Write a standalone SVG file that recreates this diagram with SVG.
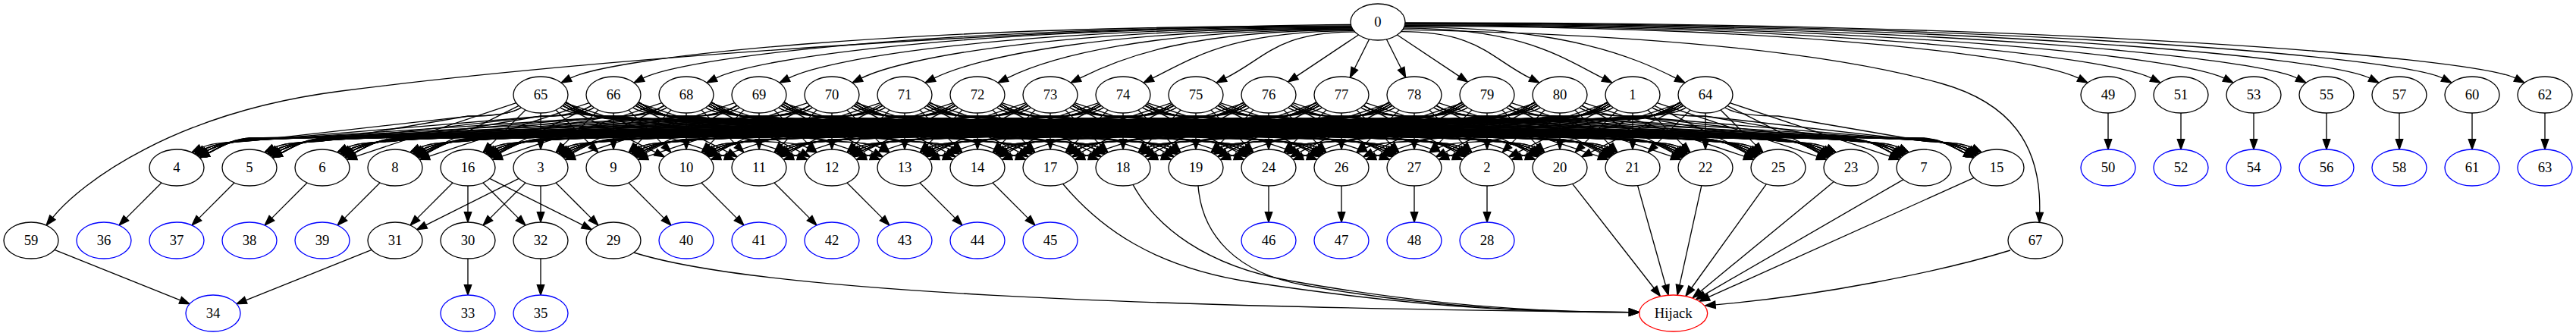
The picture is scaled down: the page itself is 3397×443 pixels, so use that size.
<svg xmlns="http://www.w3.org/2000/svg" width="3397" height="443" viewBox="0 0 3397 443">
<style>
.e{fill:none;stroke:#000;stroke-width:1.33;marker-end:url(#ah)}
.node ellipse{fill:#fff;stroke:#000;stroke-width:1.33}
.node.leaf ellipse{stroke:#0000ff}
.node.hj ellipse{stroke:#ff0000}
.node text{font-family:"Liberation Serif","Times New Roman",serif;font-size:18.67px;text-anchor:middle;fill:#000}
</style>
<defs>
<marker id="ah" viewBox="0 -5 14 10" refX="0" refY="0" markerWidth="14" markerHeight="10" markerUnits="userSpaceOnUse" orient="auto" overflow="visible"><path d="M0,-4.7L13.3,0L0,4.7z" fill="#000" stroke="#000" stroke-width="1.33"/></marker>
<path id="p0" d="M0,24L0,58.7"/>
<path id="p1" d="M20,20L66.6,66.6"/>
<path id="n1" d="M-20,20L-66.6,66.6"/>
<path id="p2" d="M28.8,14.4L151.6,75.8"/>
<path id="n2" d="M-28.8,14.4L-151.6,75.8"/>
<path id="p3" d="M32.2,10.7L243.2,81.1"/>
<path id="n3" d="M-32.2,10.7L-243.2,81.1"/>
<path id="p4" d="M26,17C40,26 70,28 96,28L288,61C313,63 336.3,62.2 352.4,70.2"/>
<path id="n4" d="M-26,17C-40,26 -70,28 -96,28L-288,61C-313,63 -336.3,62.2 -352.4,70.2"/>
<path id="p5" d="M26,17C40,26 70,28.3 96,28.3L384,60.8C409,62.8 432.3,62.2 448.4,70.2"/>
<path id="n5" d="M-26,17C-40,26 -70,28.3 -96,28.3L-384,60.8C-409,62.8 -432.3,62.2 -448.4,70.2"/>
<path id="p6" d="M29,14C43,23 70,28.5 96,28.5L480,60.5C505,62.5 524.3,64.2 540.4,72.2"/>
<path id="n6" d="M-29,14C-43,23 -70,28.5 -96,28.5L-480,60.5C-505,62.5 -524.3,64.2 -540.4,72.2"/>
<path id="p7" d="M29,14C43,23 70,28.8 96,28.8L576,60.3C601,62.3 620.3,64.2 636.4,72.2"/>
<path id="n7" d="M-29,14C-43,23 -70,28.8 -96,28.8L-576,60.3C-601,62.3 -620.3,64.2 -636.4,72.2"/>
<path id="p8" d="M29,14C43,23 70,29 96,29L672,60C697,62 716.3,64.2 732.4,72.2"/>
<path id="n8" d="M-29,14C-43,23 -70,29 -96,29L-672,60C-697,62 -716.3,64.2 -732.4,72.2"/>
<path id="p9" d="M29,14C43,23 70,29.3 96,29.3L768,59.8C793,61.8 812.3,64.2 828.4,72.2"/>
<path id="n9" d="M-29,14C-43,23 -70,29.3 -96,29.3L-768,59.8C-793,61.8 -812.3,64.2 -828.4,72.2"/>
<path id="p10" d="M31,12C45,21 70,29.5 96,29.5L864,59.5C889,61.5 905.3,66.2 921.4,74.2"/>
<path id="n10" d="M-31,12C-45,21 -70,29.5 -96,29.5L-864,59.5C-889,61.5 -905.3,66.2 -921.4,74.2"/>
<path id="p11" d="M31,12C45,21 70,29.8 96,29.8L960,59.3C985,61.3 1001.3,66.2 1017.4,74.2"/>
<path id="n11" d="M-31,12C-45,21 -70,29.8 -96,29.8L-960,59.3C-985,61.3 -1001.3,66.2 -1017.4,74.2"/>
<path id="p12" d="M31,12C45,21 70,30 96,30L1056,59C1081,61 1097.3,66.2 1113.4,74.2"/>
<path id="n12" d="M-31,12C-45,21 -70,30 -96,30L-1056,59C-1081,61 -1097.3,66.2 -1113.4,74.2"/>
<path id="p13" d="M31,12C45,21 70,30.3 96,30.3L1152,58.8C1177,60.8 1193.3,66.2 1209.4,74.2"/>
<path id="n13" d="M-31,12C-45,21 -70,30.3 -96,30.3L-1152,58.8C-1177,60.8 -1193.3,66.2 -1209.4,74.2"/>
<path id="p14" d="M31,12C45,21 70,30.5 96,30.5L1248,58.5C1273,60.5 1289.3,66.2 1305.4,74.2"/>
<path id="n14" d="M-31,12C-45,21 -70,30.5 -96,30.5L-1248,58.5C-1273,60.5 -1289.3,66.2 -1305.4,74.2"/>
<path id="p15" d="M33,9.6C47,18.6 70,30.8 96,30.8L1344,58.3C1369,60.3 1382.3,68.9 1398.4,76.9"/>
<path id="n15" d="M-33,9.6C-47,18.6 -70,30.8 -96,30.8L-1344,58.3C-1369,60.3 -1382.3,68.9 -1398.4,76.9"/>
<path id="p16" d="M33,9.6C47,18.6 70,31 96,31L1440,58C1465,60 1478.3,68.9 1494.4,76.9"/>
<path id="n16" d="M-33,9.6C-47,18.6 -70,31 -96,31L-1440,58C-1465,60 -1478.3,68.9 -1494.4,76.9"/>
<path id="p17" d="M33,9.6C47,18.6 70,31.3 96,31.3L1536,57.8C1561,59.8 1574.3,68.9 1590.4,76.9"/>
<path id="n17" d="M-33,9.6C-47,18.6 -70,31.3 -96,31.3L-1536,57.8C-1561,59.8 -1574.3,68.9 -1590.4,76.9"/>
<path id="p18" d="M33,9.6C47,18.6 70,31.5 96,31.5L1632,57.5C1657,59.5 1670.3,68.9 1686.4,76.9"/>
<path id="n18" d="M-33,9.6C-47,18.6 -70,31.5 -96,31.5L-1632,57.5C-1657,59.5 -1670.3,68.9 -1686.4,76.9"/>
<path id="p19" d="M33,9.6C47,18.6 70,31.8 96,31.8L1728,57.3C1753,59.3 1766.3,68.9 1782.4,76.9"/>
<path id="n19" d="M-33,9.6C-47,18.6 -70,31.8 -96,31.8L-1728,57.3C-1753,59.3 -1766.3,68.9 -1782.4,76.9"/>
<path id="p20" d="M33,9.6C47,18.6 70,32 96,32L1824,57C1849,59 1862.3,68.9 1878.4,76.9"/>
<path id="n20" d="M-33,9.6C-47,18.6 -70,32 -96,32L-1824,57C-1849,59 -1862.3,68.9 -1878.4,76.9"/>
<path id="n21" d="M-33,9.6C-47,18.6 -70,32.3 -96,32.3L-1920,56.8C-1945,58.8 -1958.3,68.9 -1974.4,76.9"/>
</defs>
<rect width="3397" height="443" fill="#fff"/>
<g id="edges" class="e">
<g id="from0">
<path d="M1791.5,46L1709.6,100.6"/>
<path d="M1805.6,51.8L1786.3,90.3"/>
<path d="M1828.4,51.8L1847.7,90.3"/>
<path d="M1842.5,46L1924.4,100.6"/>
<path d="M1786.8,42.1C1684.3,42.1 1669.5,76.3 1615.9,103.1"/>
<path d="M1785.5,40.6C1626.1,40.6 1573.5,76.3 1519.9,103.1"/>
<path d="M1784.6,39.5C1568.2,39.5 1477.5,76.3 1423.9,103.1"/>
<path d="M1784.1,38.8C1510.4,38.8 1381.5,76.3 1327.9,103.1"/>
<path d="M1783.6,38C1452.6,38 1285.5,76.3 1231.9,103.1"/>
<path d="M1783.2,37.2C1394.8,37.2 1189.5,76.3 1135.9,103.1"/>
<path d="M1782.8,36.4C1337.1,36.4 1093.5,76.3 1039.9,103.1"/>
<path d="M1782.4,35.6C1279.3,35.6 997.5,76.3 943.9,103.1"/>
<path d="M1782.1,34.8C1221.6,34.8 901.5,76.3 847.9,103.1"/>
<path d="M1781.8,34C1163.9,34 805.5,76.3 751.9,103.1"/>
<path d="M1847.5,41.7C1949.9,41.7 1964.5,76.3 2018.1,103.1"/>
<path d="M1850.8,37.2C2008.8,37.2 2060.5,76.3 2114.1,103.1"/>
<path d="M1851.6,35.6C2066.7,35.6 2156.5,76.3 2210.1,103.1"/>
<path d="M1852.1,34.4C2385.5,34.4 2687.5,76.3 2741.1,103.1"/>
<path d="M1852.3,33.6C2443.2,33.6 2783.5,76.3 2837.1,103.1"/>
<path d="M1852.6,32.8C2500.9,32.8 2879.5,76.3 2933.1,103.1"/>
<path d="M1852.7,31.9C2558.5,31.9 2975.5,76.3 3029.1,103.1"/>
<path d="M1852.9,31.1C2616.2,31.1 3071.5,76.3 3125.1,103.1"/>
<path d="M1852.9,30.5C2673.8,30.5 3167.5,76.3 3221.1,103.1"/>
<path d="M1853,29.8C2731.5,29.8 3263.5,76.3 3317.1,103.1"/>
<path d="M1849.6,39.1C2150,45 2400,65 2560,110C2650,135.3 2692,190 2689.7,280.2"/>
<path d="M1781.4,32.3C1400,35 800,75 450,120C230,148 107.2,240.6 69.4,286.8"/>
</g>
<g id="band">
<g transform="translate(713,125)"><use href="#n5"/><use href="#n4"/><use href="#n3"/><use href="#n2"/><use href="#n1"/><use href="#p0"/><use href="#p1"/><use href="#p2"/><use href="#p3"/><use href="#p4"/><use href="#p5"/><use href="#p6"/><use href="#p7"/><use href="#p8"/><use href="#p9"/><use href="#p10"/><use href="#p11"/><use href="#p12"/><use href="#p13"/><use href="#p14"/><use href="#p15"/><use href="#p16"/><use href="#p17"/><use href="#p18"/><use href="#p19"/><use href="#p20"/></g>
<g transform="translate(809,125)"><use href="#n6"/><use href="#n5"/><use href="#n4"/><use href="#n3"/><use href="#n2"/><use href="#n1"/><use href="#p0"/><use href="#p1"/><use href="#p2"/><use href="#p3"/><use href="#p4"/><use href="#p5"/><use href="#p6"/><use href="#p7"/><use href="#p8"/><use href="#p9"/><use href="#p10"/><use href="#p11"/><use href="#p12"/><use href="#p13"/><use href="#p14"/><use href="#p15"/><use href="#p16"/><use href="#p17"/><use href="#p18"/><use href="#p19"/></g>
<g transform="translate(905,125)"><use href="#n7"/><use href="#n6"/><use href="#n5"/><use href="#n4"/><use href="#n3"/><use href="#n2"/><use href="#n1"/><use href="#p0"/><use href="#p1"/><use href="#p2"/><use href="#p3"/><use href="#p4"/><use href="#p5"/><use href="#p6"/><use href="#p7"/><use href="#p8"/><use href="#p9"/><use href="#p10"/><use href="#p11"/><use href="#p12"/><use href="#p13"/><use href="#p14"/><use href="#p15"/><use href="#p16"/><use href="#p17"/><use href="#p18"/></g>
<g transform="translate(1001,125)"><use href="#n8"/><use href="#n7"/><use href="#n6"/><use href="#n5"/><use href="#n4"/><use href="#n3"/><use href="#n2"/><use href="#n1"/><use href="#p0"/><use href="#p1"/><use href="#p2"/><use href="#p3"/><use href="#p4"/><use href="#p5"/><use href="#p6"/><use href="#p7"/><use href="#p8"/><use href="#p9"/><use href="#p10"/><use href="#p11"/><use href="#p12"/><use href="#p13"/><use href="#p14"/><use href="#p15"/><use href="#p16"/><use href="#p17"/></g>
<g transform="translate(1097,125)"><use href="#n9"/><use href="#n8"/><use href="#n7"/><use href="#n6"/><use href="#n5"/><use href="#n4"/><use href="#n3"/><use href="#n2"/><use href="#n1"/><use href="#p0"/><use href="#p1"/><use href="#p2"/><use href="#p3"/><use href="#p4"/><use href="#p5"/><use href="#p6"/><use href="#p7"/><use href="#p8"/><use href="#p9"/><use href="#p10"/><use href="#p11"/><use href="#p12"/><use href="#p13"/><use href="#p14"/><use href="#p15"/><use href="#p16"/></g>
<g transform="translate(1193,125)"><use href="#n10"/><use href="#n9"/><use href="#n8"/><use href="#n7"/><use href="#n6"/><use href="#n5"/><use href="#n4"/><use href="#n3"/><use href="#n2"/><use href="#n1"/><use href="#p0"/><use href="#p1"/><use href="#p2"/><use href="#p3"/><use href="#p4"/><use href="#p5"/><use href="#p6"/><use href="#p7"/><use href="#p8"/><use href="#p9"/><use href="#p10"/><use href="#p11"/><use href="#p12"/><use href="#p13"/><use href="#p14"/><use href="#p15"/></g>
<g transform="translate(1289,125)"><use href="#n11"/><use href="#n10"/><use href="#n9"/><use href="#n8"/><use href="#n7"/><use href="#n6"/><use href="#n5"/><use href="#n4"/><use href="#n3"/><use href="#n2"/><use href="#n1"/><use href="#p0"/><use href="#p1"/><use href="#p2"/><use href="#p3"/><use href="#p4"/><use href="#p5"/><use href="#p6"/><use href="#p7"/><use href="#p8"/><use href="#p9"/><use href="#p10"/><use href="#p11"/><use href="#p12"/><use href="#p13"/><use href="#p14"/></g>
<g transform="translate(1385,125)"><use href="#n12"/><use href="#n11"/><use href="#n10"/><use href="#n9"/><use href="#n8"/><use href="#n7"/><use href="#n6"/><use href="#n5"/><use href="#n4"/><use href="#n3"/><use href="#n2"/><use href="#n1"/><use href="#p0"/><use href="#p1"/><use href="#p2"/><use href="#p3"/><use href="#p4"/><use href="#p5"/><use href="#p6"/><use href="#p7"/><use href="#p8"/><use href="#p9"/><use href="#p10"/><use href="#p11"/><use href="#p12"/><use href="#p13"/></g>
<g transform="translate(1481,125)"><use href="#n13"/><use href="#n12"/><use href="#n11"/><use href="#n10"/><use href="#n9"/><use href="#n8"/><use href="#n7"/><use href="#n6"/><use href="#n5"/><use href="#n4"/><use href="#n3"/><use href="#n2"/><use href="#n1"/><use href="#p0"/><use href="#p1"/><use href="#p2"/><use href="#p3"/><use href="#p4"/><use href="#p5"/><use href="#p6"/><use href="#p7"/><use href="#p8"/><use href="#p9"/><use href="#p10"/><use href="#p11"/><use href="#p12"/></g>
<g transform="translate(1577,125)"><use href="#n14"/><use href="#n13"/><use href="#n12"/><use href="#n11"/><use href="#n10"/><use href="#n9"/><use href="#n8"/><use href="#n7"/><use href="#n6"/><use href="#n5"/><use href="#n4"/><use href="#n3"/><use href="#n2"/><use href="#n1"/><use href="#p0"/><use href="#p1"/><use href="#p2"/><use href="#p3"/><use href="#p4"/><use href="#p5"/><use href="#p6"/><use href="#p7"/><use href="#p8"/><use href="#p9"/><use href="#p10"/><use href="#p11"/></g>
<g transform="translate(1673,125)"><use href="#n15"/><use href="#n14"/><use href="#n13"/><use href="#n12"/><use href="#n11"/><use href="#n10"/><use href="#n9"/><use href="#n8"/><use href="#n7"/><use href="#n6"/><use href="#n5"/><use href="#n4"/><use href="#n3"/><use href="#n2"/><use href="#n1"/><use href="#p0"/><use href="#p1"/><use href="#p2"/><use href="#p3"/><use href="#p4"/><use href="#p5"/><use href="#p6"/><use href="#p7"/><use href="#p8"/><use href="#p9"/><use href="#p10"/></g>
<g transform="translate(1769,125)"><use href="#n16"/><use href="#n15"/><use href="#n14"/><use href="#n13"/><use href="#n12"/><use href="#n11"/><use href="#n10"/><use href="#n9"/><use href="#n8"/><use href="#n7"/><use href="#n6"/><use href="#n5"/><use href="#n4"/><use href="#n3"/><use href="#n2"/><use href="#n1"/><use href="#p0"/><use href="#p1"/><use href="#p2"/><use href="#p3"/><use href="#p4"/><use href="#p5"/><use href="#p6"/><use href="#p7"/><use href="#p8"/><use href="#p9"/></g>
<g transform="translate(1865,125)"><use href="#n17"/><use href="#n16"/><use href="#n15"/><use href="#n14"/><use href="#n13"/><use href="#n12"/><use href="#n11"/><use href="#n10"/><use href="#n9"/><use href="#n8"/><use href="#n7"/><use href="#n6"/><use href="#n5"/><use href="#n4"/><use href="#n3"/><use href="#n2"/><use href="#n1"/><use href="#p0"/><use href="#p1"/><use href="#p2"/><use href="#p3"/><use href="#p4"/><use href="#p5"/><use href="#p6"/><use href="#p7"/><use href="#p8"/></g>
<g transform="translate(1961,125)"><use href="#n18"/><use href="#n17"/><use href="#n16"/><use href="#n15"/><use href="#n14"/><use href="#n13"/><use href="#n12"/><use href="#n11"/><use href="#n10"/><use href="#n9"/><use href="#n8"/><use href="#n7"/><use href="#n6"/><use href="#n5"/><use href="#n4"/><use href="#n3"/><use href="#n2"/><use href="#n1"/><use href="#p0"/><use href="#p1"/><use href="#p2"/><use href="#p3"/><use href="#p4"/><use href="#p5"/><use href="#p6"/><use href="#p7"/></g>
<g transform="translate(2057,125)"><use href="#n19"/><use href="#n18"/><use href="#n17"/><use href="#n16"/><use href="#n15"/><use href="#n14"/><use href="#n13"/><use href="#n12"/><use href="#n11"/><use href="#n10"/><use href="#n9"/><use href="#n8"/><use href="#n7"/><use href="#n6"/><use href="#n5"/><use href="#n4"/><use href="#n3"/><use href="#n2"/><use href="#n1"/><use href="#p0"/><use href="#p1"/><use href="#p2"/><use href="#p3"/><use href="#p4"/><use href="#p5"/><use href="#p6"/></g>
<g transform="translate(2153,125)"><use href="#n20"/><use href="#n19"/><use href="#n18"/><use href="#n17"/><use href="#n16"/><use href="#n15"/><use href="#n14"/><use href="#n13"/><use href="#n12"/><use href="#n11"/><use href="#n10"/><use href="#n9"/><use href="#n8"/><use href="#n7"/><use href="#n6"/><use href="#n5"/><use href="#n4"/><use href="#n3"/><use href="#n2"/><use href="#n1"/><use href="#p0"/><use href="#p1"/><use href="#p2"/><use href="#p3"/><use href="#p4"/><use href="#p5"/></g>
<g transform="translate(2249,125)"><use href="#n21"/><use href="#n20"/><use href="#n19"/><use href="#n18"/><use href="#n17"/><use href="#n16"/><use href="#n15"/><use href="#n14"/><use href="#n13"/><use href="#n12"/><use href="#n11"/><use href="#n10"/><use href="#n9"/><use href="#n8"/><use href="#n7"/><use href="#n6"/><use href="#n5"/><use href="#n4"/><use href="#n3"/><use href="#n2"/><use href="#n1"/><use href="#p0"/><use href="#p1"/><use href="#p2"/><use href="#p3"/><use href="#p4"/></g>
</g>
<g id="lower">
<path d="M2780,149L2780,183.7"/>
<path d="M2876,149L2876,183.7"/>
<path d="M2972,149L2972,183.7"/>
<path d="M3068,149L3068,183.7"/>
<path d="M3164,149L3164,183.7"/>
<path d="M3260,149L3260,183.7"/>
<path d="M3356,149L3356,183.7"/>
<path d="M213,241L166.4,287.6"/>
<path d="M309,241L262.4,287.6"/>
<path d="M405,241L358.4,287.6"/>
<path d="M501,241L454.4,287.6"/>
<path d="M597,241L550.4,287.6"/>
<path d="M617,245L617,279.7"/>
<path d="M637,241L683.6,287.6"/>
<path d="M645.8,235.4L768.6,296.8"/>
<path d="M684.2,235.4L561.4,296.8"/>
<path d="M693,241L646.4,287.6"/>
<path d="M713,245L713,279.7"/>
<path d="M733,241L779.6,287.6"/>
<path d="M829,241L875.6,287.6"/>
<path d="M925,241L971.6,287.6"/>
<path d="M1021,241L1067.6,287.6"/>
<path d="M1117,241L1163.6,287.6"/>
<path d="M1213,241L1259.6,287.6"/>
<path d="M1309,241L1355.6,287.6"/>
<path d="M1673,245L1673,279.7"/>
<path d="M1769,245L1769,279.7"/>
<path d="M1865,245L1865,279.7"/>
<path d="M1961,245L1961,279.7"/>
<path d="M71.9,329.3L237.8,395.8"/>
<path d="M490.1,329.3L324.2,395.8"/>
<path d="M617,341L617,375.7"/>
<path d="M713,341L713,375.7"/>
<path d="M836,333C1000,385 1500,405 2148.4,411.7"/>
<path d="M1401.5,242.3C1450,300 1520,352 1650,372C1900,410 2050,411.7 2148.4,411.7"/>
<path d="M1494,243.4C1525,300 1590,350 1700,370C1900,406 2050,411.7 2148.4,411.7"/>
<path d="M1580,244.9C1585,310 1630,360 1720,376C1900,408 2050,411.7 2148.4,411.7"/>
<path d="M2073.6,242.3L2181.2,380"/>
<path d="M2159.6,244.6L2196.5,376.2"/>
<path d="M2243.8,244.8L2214.9,375.9"/>
<path d="M2329.4,242.6L2230.7,379.5"/>
<path d="M2418.3,239.6L2242.4,384.2"/>
<path d="M2509.8,236.8L2247.8,388.3"/>
<path d="M2603.1,234.4L2253.2,391.7"/>
<path d="M2651,330C2560,358 2400,390 2262,401.8"/>
</g>
</g>
<g id="nodes">
<g id="node0" class="node"><ellipse cx="1817" cy="29" rx="36" ry="24"/><text x="1817" y="35">0</text></g>
<g id="node65" class="node"><ellipse cx="713" cy="125" rx="36" ry="24"/><text x="713" y="131">65</text></g>
<g id="node66" class="node"><ellipse cx="809" cy="125" rx="36" ry="24"/><text x="809" y="131">66</text></g>
<g id="node68" class="node"><ellipse cx="905" cy="125" rx="36" ry="24"/><text x="905" y="131">68</text></g>
<g id="node69" class="node"><ellipse cx="1001" cy="125" rx="36" ry="24"/><text x="1001" y="131">69</text></g>
<g id="node70" class="node"><ellipse cx="1097" cy="125" rx="36" ry="24"/><text x="1097" y="131">70</text></g>
<g id="node71" class="node"><ellipse cx="1193" cy="125" rx="36" ry="24"/><text x="1193" y="131">71</text></g>
<g id="node72" class="node"><ellipse cx="1289" cy="125" rx="36" ry="24"/><text x="1289" y="131">72</text></g>
<g id="node73" class="node"><ellipse cx="1385" cy="125" rx="36" ry="24"/><text x="1385" y="131">73</text></g>
<g id="node74" class="node"><ellipse cx="1481" cy="125" rx="36" ry="24"/><text x="1481" y="131">74</text></g>
<g id="node75" class="node"><ellipse cx="1577" cy="125" rx="36" ry="24"/><text x="1577" y="131">75</text></g>
<g id="node76" class="node"><ellipse cx="1673" cy="125" rx="36" ry="24"/><text x="1673" y="131">76</text></g>
<g id="node77" class="node"><ellipse cx="1769" cy="125" rx="36" ry="24"/><text x="1769" y="131">77</text></g>
<g id="node78" class="node"><ellipse cx="1865" cy="125" rx="36" ry="24"/><text x="1865" y="131">78</text></g>
<g id="node79" class="node"><ellipse cx="1961" cy="125" rx="36" ry="24"/><text x="1961" y="131">79</text></g>
<g id="node80" class="node"><ellipse cx="2057" cy="125" rx="36" ry="24"/><text x="2057" y="131">80</text></g>
<g id="node1" class="node"><ellipse cx="2153" cy="125" rx="36" ry="24"/><text x="2153" y="131">1</text></g>
<g id="node64" class="node"><ellipse cx="2249" cy="125" rx="36" ry="24"/><text x="2249" y="131">64</text></g>
<g id="node49" class="node"><ellipse cx="2780" cy="125" rx="36" ry="24"/><text x="2780" y="131">49</text></g>
<g id="node51" class="node"><ellipse cx="2876" cy="125" rx="36" ry="24"/><text x="2876" y="131">51</text></g>
<g id="node53" class="node"><ellipse cx="2972" cy="125" rx="36" ry="24"/><text x="2972" y="131">53</text></g>
<g id="node55" class="node"><ellipse cx="3068" cy="125" rx="36" ry="24"/><text x="3068" y="131">55</text></g>
<g id="node57" class="node"><ellipse cx="3164" cy="125" rx="36" ry="24"/><text x="3164" y="131">57</text></g>
<g id="node60" class="node"><ellipse cx="3260" cy="125" rx="36" ry="24"/><text x="3260" y="131">60</text></g>
<g id="node62" class="node"><ellipse cx="3356" cy="125" rx="36" ry="24"/><text x="3356" y="131">62</text></g>
<g id="node4" class="node"><ellipse cx="233" cy="221" rx="36" ry="24"/><text x="233" y="227">4</text></g>
<g id="node5" class="node"><ellipse cx="329" cy="221" rx="36" ry="24"/><text x="329" y="227">5</text></g>
<g id="node6" class="node"><ellipse cx="425" cy="221" rx="36" ry="24"/><text x="425" y="227">6</text></g>
<g id="node8" class="node"><ellipse cx="521" cy="221" rx="36" ry="24"/><text x="521" y="227">8</text></g>
<g id="node16" class="node"><ellipse cx="617" cy="221" rx="36" ry="24"/><text x="617" y="227">16</text></g>
<g id="node3" class="node"><ellipse cx="713" cy="221" rx="36" ry="24"/><text x="713" y="227">3</text></g>
<g id="node9" class="node"><ellipse cx="809" cy="221" rx="36" ry="24"/><text x="809" y="227">9</text></g>
<g id="node10" class="node"><ellipse cx="905" cy="221" rx="36" ry="24"/><text x="905" y="227">10</text></g>
<g id="node11" class="node"><ellipse cx="1001" cy="221" rx="36" ry="24"/><text x="1001" y="227">11</text></g>
<g id="node12" class="node"><ellipse cx="1097" cy="221" rx="36" ry="24"/><text x="1097" y="227">12</text></g>
<g id="node13" class="node"><ellipse cx="1193" cy="221" rx="36" ry="24"/><text x="1193" y="227">13</text></g>
<g id="node14" class="node"><ellipse cx="1289" cy="221" rx="36" ry="24"/><text x="1289" y="227">14</text></g>
<g id="node17" class="node"><ellipse cx="1385" cy="221" rx="36" ry="24"/><text x="1385" y="227">17</text></g>
<g id="node18" class="node"><ellipse cx="1481" cy="221" rx="36" ry="24"/><text x="1481" y="227">18</text></g>
<g id="node19" class="node"><ellipse cx="1577" cy="221" rx="36" ry="24"/><text x="1577" y="227">19</text></g>
<g id="node24" class="node"><ellipse cx="1673" cy="221" rx="36" ry="24"/><text x="1673" y="227">24</text></g>
<g id="node26" class="node"><ellipse cx="1769" cy="221" rx="36" ry="24"/><text x="1769" y="227">26</text></g>
<g id="node27" class="node"><ellipse cx="1865" cy="221" rx="36" ry="24"/><text x="1865" y="227">27</text></g>
<g id="node2" class="node"><ellipse cx="1961" cy="221" rx="36" ry="24"/><text x="1961" y="227">2</text></g>
<g id="node20" class="node"><ellipse cx="2057" cy="221" rx="36" ry="24"/><text x="2057" y="227">20</text></g>
<g id="node21" class="node"><ellipse cx="2153" cy="221" rx="36" ry="24"/><text x="2153" y="227">21</text></g>
<g id="node22" class="node"><ellipse cx="2249" cy="221" rx="36" ry="24"/><text x="2249" y="227">22</text></g>
<g id="node25" class="node"><ellipse cx="2345" cy="221" rx="36" ry="24"/><text x="2345" y="227">25</text></g>
<g id="node23" class="node"><ellipse cx="2441" cy="221" rx="36" ry="24"/><text x="2441" y="227">23</text></g>
<g id="node7" class="node"><ellipse cx="2537" cy="221" rx="36" ry="24"/><text x="2537" y="227">7</text></g>
<g id="node15" class="node"><ellipse cx="2633" cy="221" rx="36" ry="24"/><text x="2633" y="227">15</text></g>
<g id="node50" class="node leaf"><ellipse cx="2780" cy="221" rx="36" ry="24"/><text x="2780" y="227">50</text></g>
<g id="node52" class="node leaf"><ellipse cx="2876" cy="221" rx="36" ry="24"/><text x="2876" y="227">52</text></g>
<g id="node54" class="node leaf"><ellipse cx="2972" cy="221" rx="36" ry="24"/><text x="2972" y="227">54</text></g>
<g id="node56" class="node leaf"><ellipse cx="3068" cy="221" rx="36" ry="24"/><text x="3068" y="227">56</text></g>
<g id="node58" class="node leaf"><ellipse cx="3164" cy="221" rx="36" ry="24"/><text x="3164" y="227">58</text></g>
<g id="node61" class="node leaf"><ellipse cx="3260" cy="221" rx="36" ry="24"/><text x="3260" y="227">61</text></g>
<g id="node63" class="node leaf"><ellipse cx="3356" cy="221" rx="36" ry="24"/><text x="3356" y="227">63</text></g>
<g id="node59" class="node"><ellipse cx="41" cy="317" rx="36" ry="24"/><text x="41" y="323">59</text></g>
<g id="node36" class="node leaf"><ellipse cx="137" cy="317" rx="36" ry="24"/><text x="137" y="323">36</text></g>
<g id="node37" class="node leaf"><ellipse cx="233" cy="317" rx="36" ry="24"/><text x="233" y="323">37</text></g>
<g id="node38" class="node leaf"><ellipse cx="329" cy="317" rx="36" ry="24"/><text x="329" y="323">38</text></g>
<g id="node39" class="node leaf"><ellipse cx="425" cy="317" rx="36" ry="24"/><text x="425" y="323">39</text></g>
<g id="node31" class="node"><ellipse cx="521" cy="317" rx="36" ry="24"/><text x="521" y="323">31</text></g>
<g id="node30" class="node"><ellipse cx="617" cy="317" rx="36" ry="24"/><text x="617" y="323">30</text></g>
<g id="node32" class="node"><ellipse cx="713" cy="317" rx="36" ry="24"/><text x="713" y="323">32</text></g>
<g id="node29" class="node"><ellipse cx="809" cy="317" rx="36" ry="24"/><text x="809" y="323">29</text></g>
<g id="node40" class="node leaf"><ellipse cx="905" cy="317" rx="36" ry="24"/><text x="905" y="323">40</text></g>
<g id="node41" class="node leaf"><ellipse cx="1001" cy="317" rx="36" ry="24"/><text x="1001" y="323">41</text></g>
<g id="node42" class="node leaf"><ellipse cx="1097" cy="317" rx="36" ry="24"/><text x="1097" y="323">42</text></g>
<g id="node43" class="node leaf"><ellipse cx="1193" cy="317" rx="36" ry="24"/><text x="1193" y="323">43</text></g>
<g id="node44" class="node leaf"><ellipse cx="1289" cy="317" rx="36" ry="24"/><text x="1289" y="323">44</text></g>
<g id="node45" class="node leaf"><ellipse cx="1385" cy="317" rx="36" ry="24"/><text x="1385" y="323">45</text></g>
<g id="node46" class="node leaf"><ellipse cx="1673" cy="317" rx="36" ry="24"/><text x="1673" y="323">46</text></g>
<g id="node47" class="node leaf"><ellipse cx="1769" cy="317" rx="36" ry="24"/><text x="1769" y="323">47</text></g>
<g id="node48" class="node leaf"><ellipse cx="1865" cy="317" rx="36" ry="24"/><text x="1865" y="323">48</text></g>
<g id="node28" class="node leaf"><ellipse cx="1961" cy="317" rx="36" ry="24"/><text x="1961" y="323">28</text></g>
<g id="node67" class="node"><ellipse cx="2684" cy="317" rx="36" ry="24"/><text x="2684" y="323">67</text></g>
<g id="node34" class="node leaf"><ellipse cx="281" cy="413" rx="36" ry="24"/><text x="281" y="419">34</text></g>
<g id="node33" class="node leaf"><ellipse cx="617" cy="413" rx="36" ry="24"/><text x="617" y="419">33</text></g>
<g id="node35" class="node leaf"><ellipse cx="713" cy="413" rx="36" ry="24"/><text x="713" y="419">35</text></g>
<g id="nodeHijack" class="node hj"><ellipse cx="2206.7" cy="413" rx="45" ry="24"/><text x="2206.7" y="419">Hijack</text></g>
</g>
</svg>
